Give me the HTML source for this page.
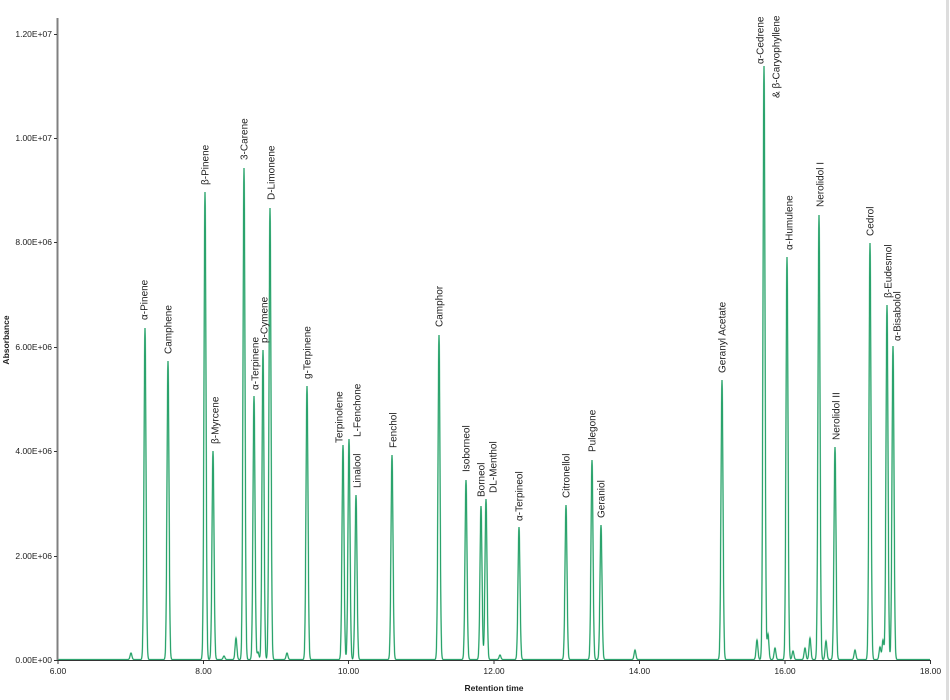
<!DOCTYPE html>
<html><head><meta charset="utf-8"><style>
html,body{margin:0;padding:0;background:#fff;width:950px;height:700px;overflow:hidden}
text{font-family:"Liberation Sans",Arial,sans-serif;fill:#222}
</style></head><body>
<svg id="s" width="950" height="700" xmlns="http://www.w3.org/2000/svg">
<line x1="947.5" y1="0" x2="947.5" y2="700" stroke="#ddd" stroke-width="3"/>
<g id="plot"></g>
<line x1="57.5" y1="18" x2="57.5" y2="661" stroke="#808080" stroke-width="2"/>
<line x1="57" y1="660.5" x2="931" y2="660.5" stroke="#333" stroke-width="1"/>
<g font-size="8.5" text-anchor="end">
<text x="52" y="663">0.00E+00</text>
<text x="52" y="559">2.00E+06</text>
<text x="52" y="454">4.00E+06</text>
<text x="52" y="350">6.00E+06</text>
<text x="52" y="245">8.00E+06</text>
<text x="52" y="141">1.00E+07</text>
<text x="52" y="37">1.20E+07</text>
</g>
<g stroke="#333" stroke-width="1">
<line x1="54" y1="660.5" x2="57" y2="660.5"/><line x1="54" y1="556.5" x2="57" y2="556.5"/>
<line x1="54" y1="451.5" x2="57" y2="451.5"/><line x1="54" y1="347.5" x2="57" y2="347.5"/>
<line x1="54" y1="242.5" x2="57" y2="242.5"/><line x1="54" y1="138.5" x2="57" y2="138.5"/>
<line x1="54" y1="34.5" x2="57" y2="34.5"/>
<line x1="58" y1="660" x2="58" y2="664"/><line x1="203.5" y1="660" x2="203.5" y2="664"/>
<line x1="348.5" y1="660" x2="348.5" y2="664"/><line x1="494" y1="660" x2="494" y2="664"/>
<line x1="639.5" y1="660" x2="639.5" y2="664"/><line x1="785" y1="660" x2="785" y2="664"/>
<line x1="930.5" y1="660" x2="930.5" y2="664"/>
</g>
<g font-size="8.5" text-anchor="middle">
<text x="58" y="674">6.00</text><text x="203.5" y="674">8.00</text><text x="348.5" y="674">10.00</text>
<text x="494" y="674">12.00</text><text x="639.5" y="674">14.00</text><text x="785" y="674">16.00</text><text x="930.5" y="674">18.00</text>
</g>
<text x="494" y="691" font-size="8.5" font-weight="bold" text-anchor="middle">Retention time</text>
<text transform="translate(9,340) rotate(-90)" font-size="8.5" font-weight="bold" text-anchor="middle">Absorbance</text>
<g id="labels" font-size="10" text-anchor="start"></g>
</svg>
<script>
var P=[
[145,328,'α-Pinene',144,320],[168,361,'Camphene',168,354],[205,192,'β-Pinene',205,185],
[213,451,'β-Myrcene',215,444],[236,638],[244,168,'3-Carene',244,160],[254,396,'α-Terpinene',255,390],
[263,350,'p-Cymene',264,343],[270,208,'D-Limonene',271,200],[287,653],[258,652],[224,656],
[307,386,'g-Terpinene',307,379],[343,445,'Terpinolene',339,443],[349,439,'L-Fenchone',357,437],
[356,495,'Linalool',357,488],[392,455,'Fenchol',393,448],[439,335,'Camphor',439,327],
[466,480,'Isoborneol',466,472],[481,506,'Borneol',481,497],[486,499,'DL-Menthol',493,493],
[500,655],[519,527,'α-Terpineol',519,521],[566,505,'Citronellol',566,498],[592,460,'Pulegone',592,452],
[601,525,'Geraniol',601,518],[635,650],[131,653],[722,380,'Geranyl Acetate',722,373],
[757,640],[764,66,'α-Cedrene',760,64],[768,634],[775,648],[787,257,'α-Humulene',789,250],
[793,651],[805,648],[810,638],[819,215,'Nerolidol I',820,207],[826,641],[835,447,'Nerolidol II',836,440],
[855,650],[870,243,'Cedrol',870,236],[880,647],[883,640],[887,305,'β-Eudesmol',888,298],[893,346,'α-Bisabolol',897,341]];
var base=659.5,d='';
for(var x=58;x<=930;x+=0.25){var y=base;for(var i=0;i<P.length;i++){var s=P[i][1]<600?1.0:0.9;var dx=x-P[i][0];y-=(base-P[i][1])*Math.exp(-dx*dx/(2*s*s));}
d+=(x==58?'M':'L')+x.toFixed(2)+' '+y.toFixed(1);}
document.getElementById('plot').innerHTML='<path d="'+d+'" fill="none" stroke="#8fd3b0" stroke-width="1.6"/><path d="'+d+'" fill="none" stroke="#12975c" stroke-width="0.8"/>';
var L='';
P.forEach(function(p){if(p[2]){L+='<text transform="translate('+(p[3]+3.5)+','+p[4]+') rotate(-90)">'+p[2]+'</text>';}});
L+='<text transform="translate('+(776+3.5)+',98) rotate(-90)">&amp; β-Caryophyllene</text>';
document.getElementById('labels').innerHTML=L;
</script>
</body></html>
